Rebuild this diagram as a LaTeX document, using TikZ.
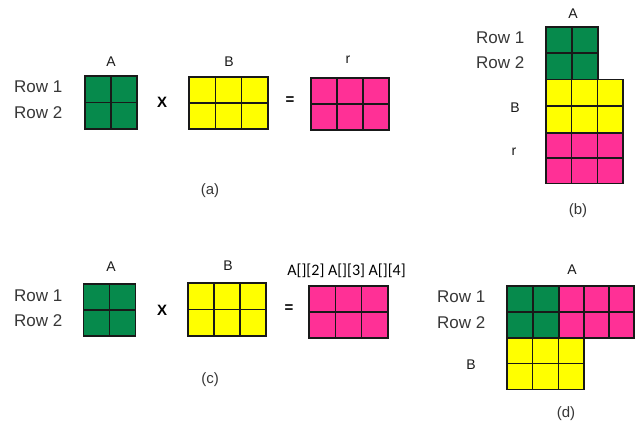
\documentclass[tikz,border=0pt]{standalone}
\usepackage{fontspec}
\setmainfont{Liberation Sans}
\newfontfamily\carl{Carlito}
\definecolor{mgreen}{RGB}{6,138,76}
\definecolor{myellow}{RGB}{255,255,0}
\definecolor{mpink}{RGB}{255,48,150}
\definecolor{rowgray}{RGB}{55,55,55}
\newcommand{\cellmat}[7]{%
  \foreach \ci in {1,...,#3}{\foreach \ri in {1,...,#4}{%
    \draw[cellline, fill=#7] ({#1+(\ci-1)*#5},{#2+(\ri-1)*#6}) rectangle ++(#5,#6);}}}
\begin{document}
\begin{tikzpicture}[x=1pt,y=-1pt,
  cellline/.style={draw=black!90, line width=1.4pt},
  rowlab/.style={anchor=west, inner sep=0, text=rowgray, font=\fontsize{17}{20}\selectfont},
  mlab/.style={inner sep=0, text=black!90, font=\fontsize{14}{16}\selectfont},
  oplab/.style={inner sep=0, font=\fontsize{15}{17}\selectfont\bfseries},
  caplab/.style={inner sep=0, text=rowgray, font=\fontsize{15}{17}\selectfont}]
\fill[white] (0,0) rectangle (639,425);
\useasboundingbox (0,0) rectangle (639,425);
% (a)
\cellmat{85}{76}{2}{2}{26}{26.5}{mgreen}
\cellmat{189}{77}{3}{2}{26.3}{26}{myellow}
\cellmat{311}{78}{3}{2}{26}{26}{mpink}
\node[mlab] (aA) at (111,62) {A};
\node[mlab] (aB) at (229,62) {B};
\node[mlab] (ar) at (348,60) {r};
\node[rowlab] (aR1) at (14,87) {Row 1};
\node[rowlab] (aR2) at (14,113) {Row 2};
\node[oplab] (aX) at (162,102) {X};
\node[oplab] (aEq) at (290,101) {=};
\node[caplab] (aCap) at (210,191) {(a)};
% (b)
\cellmat{546}{27}{2}{2}{26}{26.2}{mgreen}
\cellmat{546}{79.4}{3}{2}{25.7}{26.7}{myellow}
\cellmat{546}{132.8}{3}{2}{25.7}{25.3}{mpink}
\node[mlab] (bA) at (573,14) {A};
\node[rowlab] (bR1) at (476,38) {Row 1};
\node[rowlab] (bR2) at (476,63) {Row 2};
\node[mlab] (bB) at (515,108) {B};
\node[mlab] (br) at (514,152) {r};
\node[caplab] (bCap) at (578,211) {(b)};
% (c)
\cellmat{83.5}{284}{2}{2}{26}{26}{mgreen}
\cellmat{188}{283}{3}{2}{26}{26.5}{myellow}
\cellmat{309}{286}{3}{2}{26.3}{26}{mpink}
\node[mlab] (cA) at (111,267) {A};
\node[mlab] (cB) at (228,266) {B};
\node[inner sep=0, font=\carl\fontsize{16}{18}\selectfont] (cT) at (346.5,271) {A[][2] A[][3] A[][4]};
\node[rowlab] (cR1) at (14,296) {Row 1};
\node[rowlab] (cR2) at (14,321) {Row 2};
\node[oplab] (cX) at (162,310) {X};
\node[oplab] (cEq) at (289,309) {=};
\node[caplab] (cCap) at (210,380) {(c)};
% (d)
\cellmat{507}{286}{2}{2}{26}{26}{mgreen}
\cellmat{559}{286}{3}{2}{25}{26}{mpink}
\cellmat{507}{338}{3}{2}{25.7}{25.7}{myellow}
\node[mlab] (dA) at (572,270) {A};
\node[rowlab] (dR1) at (437,297) {Row 1};
\node[rowlab] (dR2) at (437,323) {Row 2};
\node[mlab] (dB) at (471,365) {B};
\node[caplab] (dCap) at (566,414) {(d)};
\end{tikzpicture}
\end{document}
